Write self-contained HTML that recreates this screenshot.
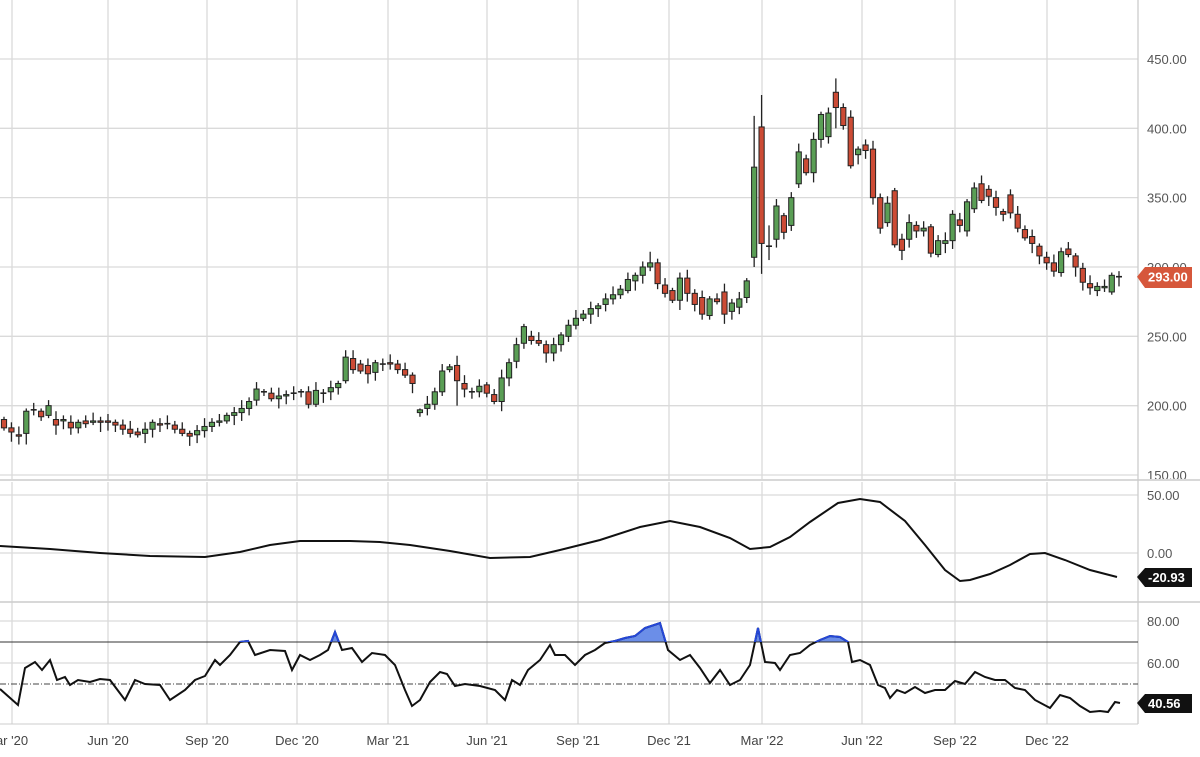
<!DOCTYPE html>
<html><head><meta charset="utf-8">
<style>
html,body{margin:0;padding:0;background:#fff;}
svg{display:block;font-family:"Liberation Sans",sans-serif;}
</style></head>
<body>
<svg id="c" width="1200" height="757" xmlns="http://www.w3.org/2000/svg"></svg>
<script>
const svg=document.getElementById('c');
let h='';
const W=1138;
const xs=[12,108,207,297,388,487,578,669,762,862,955,1047];
const xl=["ar '20","Jun '20","Sep '20","Dec '20","Mar '21","Jun '21","Sep '21","Dec '21","Mar '22","Jun '22","Sep '22","Dec '22"];
xs.forEach(x=>{h+=`<line x1="${x}" y1="0" x2="${x}" y2="724" stroke="#dadada" stroke-width="1.3"/>`;});
const py=p=>475-(p-150)*1.3867;
[150,200,250,300,350,400,450].forEach(p=>{const y=py(p);h+=`<line x1="0" y1="${y}" x2="${W}" y2="${y}" stroke="#dadada" stroke-width="1.3"/>`;
 h+=`<text x="1147" y="${y+5}" font-size="13" fill="#555">${p.toFixed(2)}</text>`;});
[495,553].forEach((y,i)=>{h+=`<line x1="0" y1="${y}" x2="${W}" y2="${y}" stroke="#dadada" stroke-width="1.3"/><text x="1147" y="${y+5}" font-size="13" fill="#555">${i?'0.00':'50.00'}</text>`;});
[621,663].forEach((y,i)=>{h+=`<line x1="0" y1="${y}" x2="${W}" y2="${y}" stroke="#dadada" stroke-width="1.3"/><text x="1147" y="${y+5}" font-size="13" fill="#555">${i?'60.00':'80.00'}</text>`;});
h+=`<rect x="0" y="479" width="1200" height="3" fill="#fff"/><line x1="0" y1="480" x2="1200" y2="480" stroke="#ccc" stroke-width="1.5"/>`;
h+=`<line x1="0" y1="602" x2="1200" y2="602" stroke="#ccc" stroke-width="1.5"/>`;
h+=`<line x1="${W}" y1="0" x2="${W}" y2="724" stroke="#ccc" stroke-width="1.3"/>`;
h+=`<line x1="0" y1="724" x2="${W}" y2="724" stroke="#ccc" stroke-width="1"/>`;
const d=[[190,184],[184,181],[179,178],[180,196],[197,197],[196,192],[193,200],[190,186],[189,190],[188,184],[184,188],[189,187],[188,189],[189,188],[189,188],
[188,186],[186,183],[183,180],[181,179],[180,183],[183,188],[187,186],[187,187],[186,183],[183,180],[180,178],[179,182],[182,185],[185,188],
[188,189],[189,193],[193,195],[195,198],[198,203],[204,212],[210,210],[209,205],[205,207],[207,208],[209,209],[210,210],[210,201],
[201,211],[209,209],[210,213],[213,216],[218,235],[234,226],[230,225],[229,223],[224,231],[230,230],[231,230],[230,226],
[226,222],[222,216],[195,197],[198,201],[201,210],[210,225],[226,228],[229,218],[216,212],[210,210],[210,214],[215,209],[208,203],
[203,220],[220,231],[232,244],[245,257],[250,247],[247,245],[244,238],[238,244],[244,251],[250,258],[258,263],[263,266],[266,270],
[270,272],[273,277],[277,280],[280,284],[283,291],[290,294],[294,300],[300,303],[303,288],[287,281],[283,276],[276,292],[292,281],
[281,273],[278,266],[265,277],[277,275],[282,266],[268,274],[271,277],[278,290],[307,372],[401,317],[315,315],[320,344],[337,325],
[330,350],[360,383],[378,368],[368,392],[392,410],[394,411],[426,415],[415,402],[408,373],[381,385],[388,384],[385,350],[350,328],
[332,346],[355,316],[320,312],[320,332],[330,326],[326,328],[329,310],[309,319],[317,319],[319,338],[334,330],[326,347],[342,357],
[360,348],[356,351],[350,343],[340,338],[352,339],[338,328],[327,321],[322,317],[315,308],[307,303],[303,297],[296,311],[313,309],
[308,300],[299,289],[288,285],[283,286],[285,286],[282,294],[293,293]];
const N=d.length;
const xi=i=>i<=117?4+i*(873-4)/117:873+(i-117)*(1119-873)/(N-1-117);
const hiO={3:[198,172],101:[409,300],102:[424,295],112:[436,400],56:[198,192],61:[236,200],46:[240,216],87:[311,297],103:[330,305]};
d.forEach((c,i)=>{
 const [o,cl]=c;const x=xi(i);
 let hi=Math.max(o,cl)+2+((i*7)%5),lo=Math.min(o,cl)-2-((i*11)%6);
 if(hiO[i]){hi=hiO[i][0];lo=hiO[i][1];}
 h+=`<line x1="${x}" y1="${py(hi)}" x2="${x}" y2="${py(lo)}" stroke="#222" stroke-width="1.3"/>`;
 const t=py(Math.max(o,cl)),b=py(Math.min(o,cl));
 if(Math.abs(b-t)<1.2){h+=`<line x1="${x-3}" y1="${t}" x2="${x+3}" y2="${t}" stroke="#222" stroke-width="1.6"/>`;}
 else h+=`<rect x="${x-2.6}" y="${t}" width="5.2" height="${b-t}" fill="${cl>=o?'#5a9e55':'#cc4b35'}" stroke="#222" stroke-width="1"/>`;
});
h+=`<path d="M1137 ${py(293)} L1145 267 L1192 267 L1192 288 L1145 288 Z" fill="#d6573b"/><text x="1148" y="${py(293)+5}" font-size="13" font-weight="bold" fill="#fff">293.00</text>`;
const p2=[[0,546],[50,549],[100,553],[150,556],[205,557],[240,552],[270,545],[300,541],[350,541],[380,542],[410,545],[450,551],[490,558],[530,557],[560,550],[600,540],[640,527],[670,521],[700,527],[730,538],[750,549],[770,547],[790,537],[810,522],[838,503],[860,499],[880,502],[905,521],[925,545],[945,570],[960,581],[970,580],[990,574],[1010,565],[1030,554],[1045,553],[1065,560],[1090,570],[1117,577]];
h+=`<polyline points="${p2.map(p=>p.join(',')).join(' ')}" fill="none" stroke="#111" stroke-width="2"/>`;
h+=`<path d="M1137 577 L1145 568 L1192 568 L1192 587 L1145 587 Z" fill="#111"/><text x="1148" y="582" font-size="13" font-weight="bold" fill="#fff">-20.93</text>`;
const r=[[0,689],[18,705],[25,668],[35,662],[42,670],[50,660],[57,680],[65,677],[70,685],[78,680],[90,682],[100,679],[110,680],[125,700],[135,680],[145,684],[160,685],[170,700],[185,690],[195,680],[205,676],[215,660],[220,665],[230,655],[240,642],[248,641],[255,655],[270,650],[285,651],[292,670],[300,655],[310,660],[320,655],[328,650],[335,632],[342,650],[352,648],[362,662],[372,653],[385,655],[395,665],[405,690],[412,706],[420,700],[430,682],[440,672],[447,674],[455,686],[465,684],[480,686],[495,690],[505,700],[512,680],[520,685],[528,670],[540,660],[550,645],[555,655],[565,655],[575,665],[585,655],[595,650],[605,643],[615,641],[625,638],[635,636],[645,628],[660,623],[668,650],[680,660],[690,655],[700,668],[710,683],[720,670],[730,685],[740,680],[750,665],[758,628],[765,662],[775,663],[780,670],[790,655],[800,653],[810,645],[820,640],[830,636],[840,637],[848,642],[852,662],[860,660],[870,665],[878,685],[885,688],[890,698],[897,690],[905,693],[915,687],[925,693],[935,690],[945,690],[955,681],[965,684],[975,672],[985,677],[995,680],[1005,680],[1015,688],[1025,690],[1035,700],[1050,708],[1060,695],[1070,698],[1080,706],[1090,712],[1100,711],[1108,712],[1115,702],[1120,703]];
h+=`<defs><clipPath id="ob"><rect x="0" y="600" width="${W}" height="42"/></clipPath></defs>`;
h+=`<polygon clip-path="url(#ob)" points="0,642 ${r.map(p=>p.join(',')).join(' ')} 1120,642" fill="#6b8ee8"/>`;
h+=`<line x1="0" y1="642" x2="${W}" y2="642" stroke="#333" stroke-width="1"/>`;
h+=`<line x1="0" y1="684" x2="${W}" y2="684" stroke="#444" stroke-width="1" stroke-dasharray="6,2,1,2"/>`;
h+=`<polyline points="${r.map(p=>p.join(',')).join(' ')}" fill="none" stroke="#111" stroke-width="2"/>`;
h+=`<polyline clip-path="url(#ob)" points="${r.map(p=>p.join(',')).join(' ')}" fill="none" stroke="#2447d8" stroke-width="2"/>`;
h+=`<path d="M1137 703 L1145 694 L1192 694 L1192 713 L1145 713 Z" fill="#111"/><text x="1148" y="708" font-size="13" font-weight="bold" fill="#fff">40.56</text>`;
xs.forEach((x,i)=>{h+=`<text x="${x}" y="745" font-size="13" fill="#444" text-anchor="middle">${xl[i]}</text>`;});
svg.innerHTML=h;
</script>
</body></html>
